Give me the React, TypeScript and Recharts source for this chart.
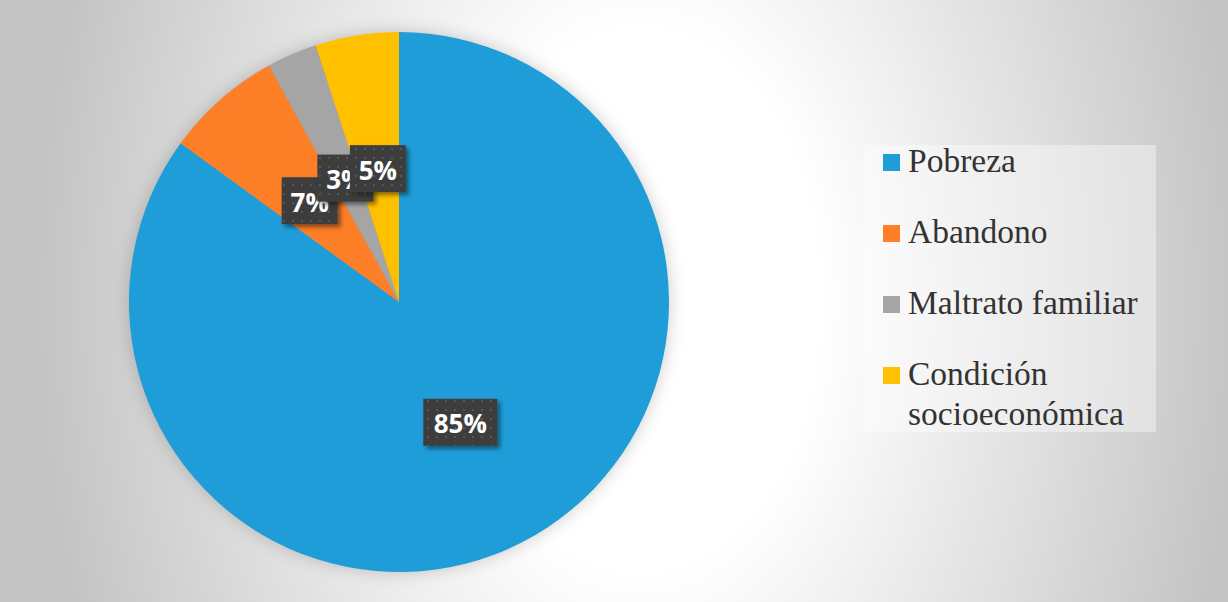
import React from 'react';
import { PieChart, Pie, Cell, Legend } from 'recharts';

const categories = ['Pobreza', 'Abandono', 'Maltrato familiar', 'Condición socioeconómica'];
const values = [85, 7, 3, 5];
const colors = ['#1f9dd9', '#fd7f27', '#a5a5a5', '#ffc000'];

const data = categories.map((name, i) => ({ name, value: values[i] }));
const shadowData = [{ name: 'shadow', value: 1 }];

const RAD = Math.PI / 180;

const renderLabel = (props: any) => {
  const { cx, cy, midAngle, outerRadius, percent } = props;
  const r = outerRadius * 0.5;
  const x = cx + r * Math.cos(-midAngle * RAD);
  const y = cy + r * Math.sin(-midAngle * RAD);
  const text = `${Math.round(percent * 100)}%`;
  const w = 20 + 18 * text.length;
  const h = 47;
  return (
    <g>
      <rect x={x - w / 2} y={y - h / 2} width={w} height={h} fill="url(#dots)" filter="url(#lblShadow)" />
      <text
        x={x}
        y={y + 1}
        textAnchor="middle"
        dominantBaseline="central"
        fill="#ffffff"
        fontFamily="'Open Sans', sans-serif"
        fontWeight={700}
        fontSize={26}
      >
        {text}
      </text>
    </g>
  );
};

const LegendBox = () => (
  <div style={{ position: 'relative', width: 293, fontFamily: "'Liberation Serif', 'Times New Roman', serif", fontSize: 33.5, color: '#333333' }}>
    <div style={{ position: 'absolute', left: 0, top: 4, width: 293, height: 287, background: 'rgba(255,255,255,0.4)' }} />
    <div style={{ position: 'relative' }}>
      {categories.map((c, i) => (
        <div key={c} style={{ display: 'flex', alignItems: 'flex-start', lineHeight: '40px', marginBottom: 31 }}>
          <div style={{ width: 17, height: 17, background: colors[i], marginLeft: 20, marginTop: 13, flex: '0 0 17px' }} />
          <div style={{ marginLeft: 8, width: 250 }}>{c}</div>
        </div>
      ))}
    </div>
  </div>
);

export default function App() {
  return (
    <div
      style={{
        position: 'absolute',
        left: 0,
        top: 0,
        width: 1228,
        height: 602,
        overflow: 'hidden',
        background: 'radial-gradient(ellipse 600px 900px at 640px 300px, #ffffff 0%, #ffffff 30%, #c4c4c4 100%)',
      }}
    >
      <svg width={0} height={0} style={{ position: 'absolute' }}>
        <defs>
          <pattern id="dots" width={9} height={9} patternUnits="userSpaceOnUse">
            <rect width={9} height={9} fill="#3d3d3d" />
            <rect x={4} y={4} width={2} height={2} fill="#575757" />
          </pattern>
          <filter id="lblShadow" x="-30%" y="-30%" width="160%" height="160%">
            <feDropShadow dx={3} dy={3} stdDeviation={2} floodColor="#000" floodOpacity={0.45} />
          </filter>
          <filter id="pieShadow" x="-20%" y="-20%" width="140%" height="140%">
            <feDropShadow dx={0} dy={0} stdDeviation={9} floodColor="#000" floodOpacity={0.22} />
          </filter>
        </defs>
      </svg>
      <PieChart width={1228} height={602} margin={{ top: 0, right: 0, bottom: 0, left: 0 }}>
        <Pie
          data={shadowData}
          dataKey="value"
          cx={399}
          cy={302}
          outerRadius={269}
          startAngle={90}
          endAngle={-270}
          stroke="none"
          fill="#999999"
          legendType="none"
          isAnimationActive={false}
          style={{ filter: 'url(#pieShadow)' }}
        />
        <Pie
          data={data}
          dataKey="value"
          nameKey="name"
          cx={399}
          cy={302}
          outerRadius={270}
          startAngle={90}
          endAngle={-270}
          stroke="none"
          label={renderLabel}
          labelLine={false}
          isAnimationActive={false}
        >
          {data.map((d, i) => (
            <Cell key={d.name} fill={colors[i]} />
          ))}
        </Pie>
        <Legend
          layout="vertical"
          align="right"
          verticalAlign="top"
          content={() => <LegendBox />}
          wrapperStyle={{ left: 863, top: 141, width: 293 }}
        />
      </PieChart>
    </div>
  );
}
